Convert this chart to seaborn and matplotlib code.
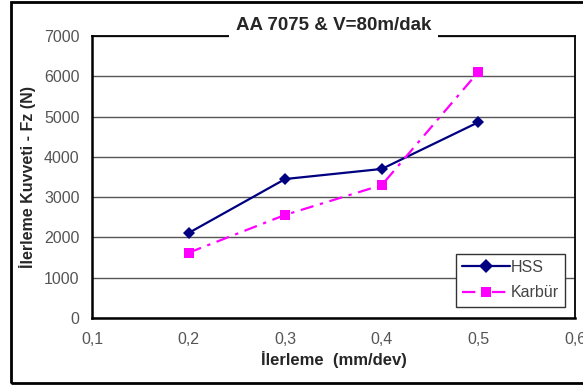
import matplotlib
matplotlib.use("Agg")
import matplotlib.pyplot as plt
import matplotlib.patches as mpatches
import seaborn as sns
import pandas as pd

feed = [0.2, 0.3, 0.4, 0.5]
hss = [2110, 3450, 3700, 4860]
karbur = [1620, 2560, 3300, 6110]
series_names = ["HSS", "Karbür"]
x_ticks = [0.1, 0.2, 0.3, 0.4, 0.5, 0.6]
x_tick_labels = ["0,1", "0,2", "0,3", "0,4", "0,5", "0,6"]
y_ticks = [0, 1000, 2000, 3000, 4000, 5000, 6000, 7000]

df = pd.DataFrame({
    "feed": feed * 2,
    "force": hss + karbur,
    "tool": [series_names[0]] * len(feed) + [series_names[1]] * len(feed),
})

sns.set_style("white")
plt.rcParams["font.family"] = ["Liberation Sans", "DejaVu Sans"]

fig = plt.figure(figsize=(5.83, 3.88), dpi=100)
ax = fig.add_axes([92 / 583, 1 - 318 / 388, (575 - 92) / 583, (318 - 36) / 388])

sns.lineplot(
    data=df, x="feed", y="force", hue="tool", style="tool",
    palette={"HSS": "#000080", "Karbür": "#FF00FF"},
    markers={"HSS": "D", "Karbür": "s"},
    dashes={"HSS": "", "Karbür": (6, 3, 1.5, 3)},
    markersize=7, linewidth=1.6, ax=ax, legend=True,
)
for line in ax.lines:
    line.set_markeredgewidth(0)
ax.lines[0].set_markersize(6)

ax.set_xlim(0.1, 0.6)
ax.set_ylim(0, 7000)
ax.set_xticks(x_ticks)
ax.set_xticklabels(x_tick_labels)
ax.set_yticks(y_ticks)
ax.yaxis.grid(True, color="#555555", linewidth=1)
ax.set_axisbelow(True)
ax.tick_params(axis="both", direction="out", length=4, width=1, colors="black",
               labelcolor="#555555", labelsize=11.5)
ax.tick_params(axis="x", pad=6)
ax.tick_params(axis="y", pad=5)
for s in ax.spines.values():
    s.set_color("black")
    s.set_linewidth(1.3)
ax.spines["left"].set_linewidth(1.8)
ax.spines["bottom"].set_linewidth(1.8)

ax.set_xlabel("İlerleme  (mm/dev)", fontsize=12, fontweight="bold", labelpad=3)
ax.set_ylabel("İlerleme Kuvveti - Fz (N)", fontsize=11.5, fontweight="bold", labelpad=6)

ax.annotate("AA 7075 & V=80m/dak", xy=(0.5, 1.0), xycoords="axes fraction",
            xytext=(0, 7.5), textcoords="offset points", ha="center", va="center",
            fontsize=13.5, fontweight="bold",
            bbox=dict(facecolor="white", edgecolor="none", pad=5))

leg = ax.legend(loc="lower right", bbox_to_anchor=(0.98, 0.04), frameon=True,
                fancybox=False, edgecolor="#333333", framealpha=1, fontsize=11.5,
                handlelength=3.0, handletextpad=0.05, borderpad=0.4,
                labelspacing=0.65, borderaxespad=0)
leg.get_frame().set_linewidth(1)
for t in leg.get_texts():
    t.set_color("#444444")

rect = mpatches.Rectangle((11 / 583, 5 / 388), 0.99, 1 - 6.5 / 388, transform=fig.transFigure,
                          fill=False, edgecolor="black", linewidth=2, clip_on=False)
fig.patches.append(rect)

fig.savefig("out.png", dpi=100)
